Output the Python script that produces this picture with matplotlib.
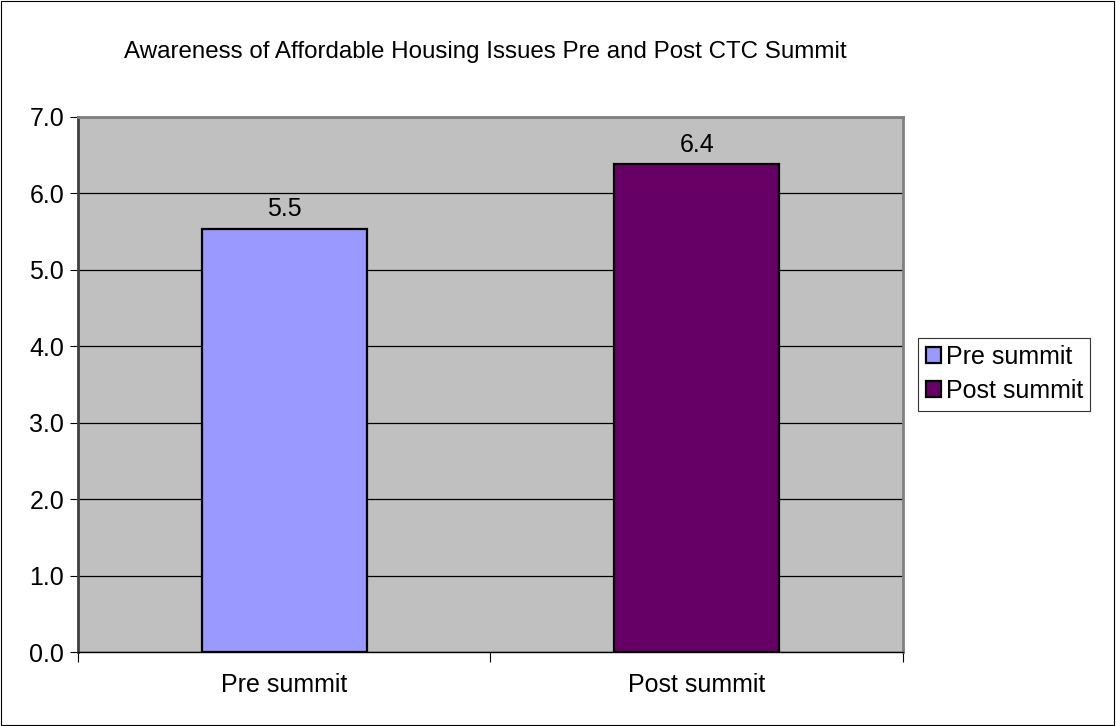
import matplotlib
matplotlib.use("Agg")
from matplotlib import pyplot as plt
from matplotlib.patches import Rectangle

plt.rcParams['font.family'] = ['Liberation Sans', 'DejaVu Sans']

categories = ['Pre summit', 'Post summit']
values = [5.54, 6.38]
value_labels = ['5.5', '6.4']
colors = ['#9999FF', '#660066']
yticks = [0.0, 1.0, 2.0, 3.0, 4.0, 5.0, 6.0, 7.0]
title = 'Awareness of Affordable Housing Issues Pre and Post CTC Summit'

fig = plt.figure(figsize=(11.16, 7.26), dpi=100)
ax = fig.add_axes([78 / 1116, 1 - 652 / 726, 825 / 1116, 535 / 726])
ax.set_facecolor('#C0C0C0')

# figure border
fig.patches.append(Rectangle((0.001, 0.001), 0.997, 0.997, transform=fig.transFigure,
                             fill=False, edgecolor='#000000', linewidth=0.8))

x = range(len(categories))
bars = ax.bar(x, values, width=0.4, color=colors, edgecolor='black', linewidth=1.6,
              zorder=3, label=None)
for b, lab in zip(bars, value_labels):
    ax.text(b.get_x() + b.get_width() / 2, b.get_height() + 0.1, lab,
            ha='center', va='bottom', fontsize=18)

ax.set_xlim(-0.5, 1.5)
ax.set_ylim(0, 7)
ax.set_yticks(yticks)
ax.set_yticklabels(['%.1f' % t for t in yticks], fontsize=18)
ax.yaxis.grid(True, color='black', linewidth=0.9, zorder=1)
ax.set_axisbelow(True)

# category labels centred, ticks at boundaries
ax.set_xticks([-0.5, 0.5, 1.5])
ax.set_xticklabels([])
ax.set_xticks(list(x), minor=True)
ax.set_xticklabels(categories, minor=True, fontsize=18)
ax.tick_params(axis='x', which='minor', length=0, pad=15)
ax.tick_params(axis='x', which='major', length=7, direction='out', color='black')
ax.tick_params(axis='y', length=6, direction='out', color='black', pad=4)

for side in ['top', 'right']:
    ax.spines[side].set_color('#808080')
    ax.spines[side].set_linewidth(2)
ax.spines['left'].set_color('#404040')
ax.spines['left'].set_linewidth(2)
ax.spines['bottom'].set_color('black')
ax.spines['bottom'].set_linewidth(1)

fig.text(485 / 1116, 1 - 52 / 726, title, ha='center', va='center', fontsize=17.4)

leg = fig.legend(bars, categories, loc='center left', bbox_to_anchor=(918 / 1116, 1 - 374 / 726),
                 fontsize=18, frameon=True, fancybox=False, edgecolor='black',
                 handlelength=0.6, handleheight=0.6, handletextpad=0.2, borderpad=0.3,
                 labelspacing=0.4, borderaxespad=0)
leg.get_frame().set_linewidth(0.8)

fig.savefig('out.png', dpi=100)
